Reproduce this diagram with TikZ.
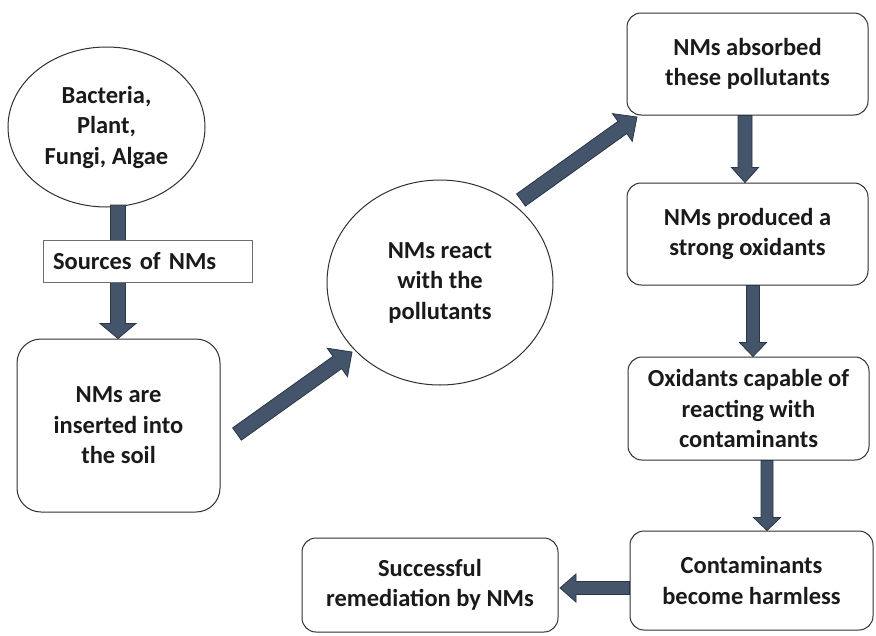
\documentclass[tikz,border=0pt]{standalone}
\usepackage{fontspec}
\setmainfont{Carlito}
\usetikzlibrary{shapes.geometric,calc}
\definecolor{arrowfill}{HTML}{44546A}
\definecolor{arrowline}{HTML}{2B3646}
\definecolor{boxline}{HTML}{303030}
\definecolor{txt}{HTML}{1A1A1A}
% fat arrow: #1 from, #2 to, #3 shaft half width, #4 head half width, #5 head length
\newcommand\fatarrow[5]{%
  \coordinate (fH) at ($(#2)!#5!(#1)$);
  \filldraw[fill=arrowfill,draw=arrowline,line width=0.8pt,line join=miter]
    ($(#1)!#3!90:(#2)$) -- ($(fH)!#3!-90:(#1)$) -- ($(fH)!#4!-90:(#1)$) --
    (#2) -- ($(fH)!#4!90:(#1)$) -- ($(fH)!#3!90:(#1)$) -- ($(#1)!#3!-90:(#2)$) -- cycle;
}
\tikzset{
  every node/.style={font=\bfseries\fontsize{24.5}{30.5}\selectfont, text=txt, align=center},
  oval/.style={ellipse, draw=boxline, line width=1pt, fill=white, inner sep=0pt},
  rbox/.style={rectangle, rounded corners=14pt, draw=boxline, line width=1pt, fill=white, inner sep=0pt},
  lbox/.style={rectangle, draw=boxline!70, line width=0.9pt, fill=white, inner sep=0pt},
}
\begin{document}
\begin{tikzpicture}[x=1pt,y=-1pt]
\useasboundingbox (0,0) rectangle (876,635);
\fill[white] (0,0) rectangle (876,635);
% nodes
\node[oval, minimum width=197, minimum height=160] (src) at (106.5,127) {Bacteria,\\Plant,\\Fungi, Algae};
\node[rbox, rounded corners=24pt, minimum width=203, minimum height=173] (ins) at (118.5,425.5) {NMs are\\inserted into\\the soil};
\node[oval, minimum width=226, minimum height=205] (react) at (440,282.5) {NMs react\\with the\\pollutants};
\node[rbox, minimum width=241, minimum height=102] (abs) at (747.5,64) {NMs absorbed\\these pollutants};
\node[rbox, minimum width=241, minimum height=102] (prod) at (747.5,234) {NMs produced a\\strong oxidants};
\node[rbox, minimum width=241, minimum height=103] (oxi) at (748.5,408.5) {Oxidants capable of\\reacting with\\contaminants};
\node[rbox, minimum width=243, minimum height=99] (harm) at (751.5,580.5) {Contaminants\\become harmless};
\node[rbox, minimum width=256, minimum height=94] (succ) at (430,585) {Successful\\remediation by NMs};
% connector end points
\coordinate (a1s) at (118,205);
\coordinate (a1e) at (ins.north -| a1s);
\coordinate (a2s) at (237,434);
\coordinate (a2e) at (352,352);
\coordinate (a3s) at (521,200);
\coordinate (a3e) at (637,117);
\coordinate (a4s) at (abs.south -| 745,0);
\coordinate (a4e) at (prod.north -| 745,0);
\coordinate (a5s) at (prod.south -| 753,0);
\coordinate (a5e) at (oxi.north -| 753,0);
\coordinate (a6s) at (oxi.south -| 767,0);
\coordinate (a6e) at (harm.north -| 767,0);
\coordinate (a7s) at (harm.west |- 0,588);
\coordinate (a7e) at (560,588);
% arrows
\fatarrow{a1s}{a1e}{7.5pt}{18pt}{15pt}
\fatarrow{a2s}{a2e}{7.5pt}{17.5pt}{18pt}
\fatarrow{a3s}{a3e}{7.5pt}{17pt}{18pt}
\fatarrow{a4s}{a4e}{7pt}{13.5pt}{15pt}
\fatarrow{a5s}{a5e}{6.5pt}{13.5pt}{14pt}
\fatarrow{a6s}{a6e}{6pt}{13.5pt}{13pt}
\fatarrow{a7s}{a7e}{6.5pt}{14pt}{16pt}
% label box over the first arrow
\node[lbox, minimum width=209, minimum height=42, text width=189, align=left, inner xsep=10pt] (lbl) at (147.5,261) {Sources of NMs};
\end{tikzpicture}
\end{document}
